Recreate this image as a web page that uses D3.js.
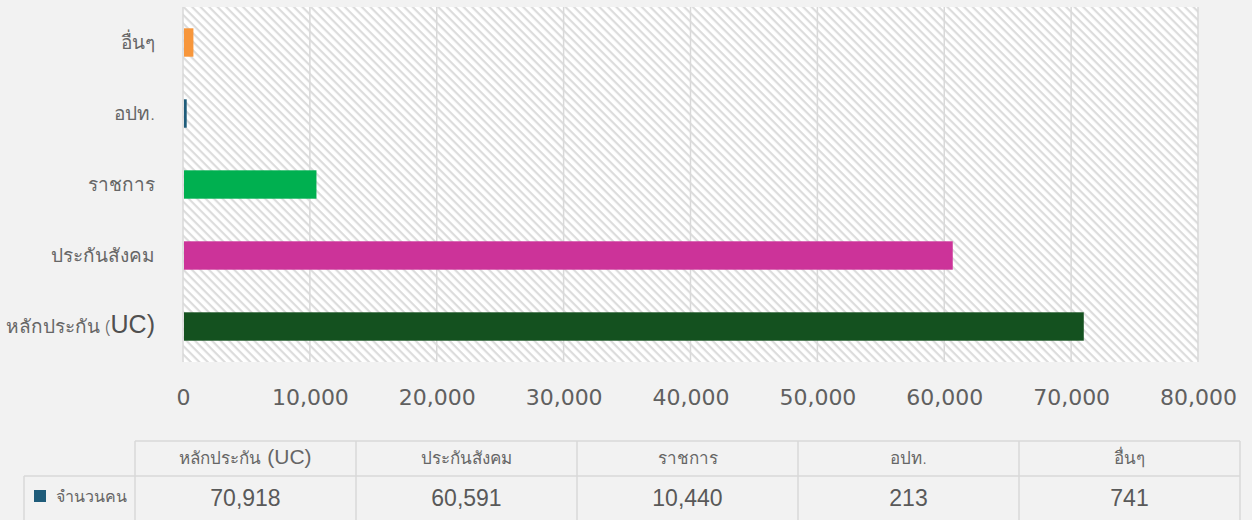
<!DOCTYPE html>
<html>
<head>
<meta charset="utf-8">
<script src="https://cdn.jsdelivr.net/npm/d3@7"></script>
<style>
  body { margin: 0; background: #f2f2f2; }
  svg { display: block; }
</style>
</head>
<body>
<svg id="chart" width="1252" height="520"></svg>
<script>
// data, bottom bar first in the table order
var categories = ["หลักประกัน (UC)", "ประกันสังคม", "ราชการ", "อปท.", "อื่นๆ"];
var values = [70918, 60591, 10440, 213, 741];
var barColors = ["#14511f", "#cc3399", "#00b050", "#1f5c7a", "#f7963b"];
var xTicks = [0, 10000, 20000, 30000, 40000, 50000, 60000, 70000, 80000];
var seriesName = "จำนวนคน";
var seriesColor = "#1f5c7a";

var svg = d3.select("#chart");
var plotLeft = 183, plotRight = 1198, plotTop = 7, plotBottom = 362;
var textColor = "#595959";
var fmt = d3.format(",");

var x = d3.scaleLinear().domain([0, 80000]).range([plotLeft, plotRight]);
// top to bottom: last category on top
var y = d3.scaleBand()
    .domain(categories.slice().reverse())
    .range([plotTop, plotBottom])
    .paddingInner(0.6)
    .paddingOuter(0.3);

// hatch pattern for plot area
var defs = svg.append("defs");
var pat = defs.append("pattern")
    .attr("id", "hatch")
    .attr("patternUnits", "userSpaceOnUse")
    .attr("width", 6).attr("height", 6)
    .attr("patternTransform", "rotate(45)");
pat.append("rect").attr("width", 6).attr("height", 6).attr("fill", "#ffffff");
pat.append("rect").attr("width", 6).attr("height", 2.2).attr("fill", "#dcdcdc");

svg.append("rect")
    .attr("x", plotLeft).attr("y", plotTop)
    .attr("width", plotRight - plotLeft).attr("height", plotBottom - plotTop)
    .attr("fill", "url(#hatch)");

// gridlines
svg.append("g")
  .selectAll("line")
  .data(xTicks)
  .enter().append("line")
    .attr("x1", function(d) { return x(d); })
    .attr("x2", function(d) { return x(d); })
    .attr("y1", plotTop).attr("y2", plotBottom)
    .attr("stroke", "#d9d9d9")
    .attr("stroke-width", 1.5);

// bars
svg.append("g")
  .selectAll("rect")
  .data(categories)
  .enter().append("rect")
    .attr("x", x(0) + 1)
    .attr("y", function(d) { return y(d); })
    .attr("width", function(d, i) { return Math.max(x(values[i]) - x(0), 2); })
    .attr("height", y.bandwidth())
    .attr("fill", function(d, i) { return barColors[i]; });

// x axis labels
var xAxis = svg.append("g")
    .attr("transform", "translate(0," + plotBottom + ")")
    .call(d3.axisBottom(x).tickValues(xTicks).tickSize(0).tickPadding(27).tickFormat(fmt));
xAxis.select(".domain").remove();
xAxis.selectAll("text")
    .attr("font-family", "DejaVu Sans")
    .attr("font-size", 22)
    .attr("fill", "#606060");

// category labels
var yAxis = svg.append("g");
categories.forEach(function(c) {
  var t = yAxis.append("text")
      .attr("x", 155)
      .attr("y", y(c) + y.bandwidth() / 2)
      .attr("dy", "0.35em")
      .attr("text-anchor", "end")
      .attr("font-family", "Noto Sans")
      .attr("font-weight", 300)
      .attr("font-size", 19)
      .attr("fill", "#666");
  var m = c.match(/^(.*\()(UC\))$/);
  if (m) {
    t.append("tspan").text(m[1]);
    t.append("tspan").attr("font-family", "Liberation Sans").attr("font-size", 25).attr("fill", "#505050").text(m[2]);
  } else {
    t.text(c);
  }
});

// data table
var tblLeft = 135, tblRight = 1240, legLeft = 24;
var rowTop = 441, rowMid = 476, rowBot = 522;
var col = d3.scaleBand().domain(categories).range([tblLeft, tblRight]);
var tbl = svg.append("g").attr("stroke", "#d9d9d9").attr("stroke-width", 1.5);
tbl.append("line").attr("x1", tblLeft).attr("x2", tblRight).attr("y1", rowTop).attr("y2", rowTop);
tbl.append("line").attr("x1", legLeft).attr("x2", tblRight).attr("y1", rowMid).attr("y2", rowMid);
tbl.append("line").attr("x1", legLeft).attr("x2", legLeft).attr("y1", rowMid).attr("y2", rowBot);
tbl.selectAll(".v")
  .data(categories.concat(["end"]))
  .enter().append("line")
    .attr("x1", function(d) { return d === "end" ? tblRight : col(d); })
    .attr("x2", function(d) { return d === "end" ? tblRight : col(d); })
    .attr("y1", rowTop).attr("y2", rowBot);

var cells = svg.append("g");
categories.forEach(function(c, i) {
  var cx = col(c) + col.bandwidth() / 2;
  var h = cells.append("text")
      .attr("x", cx).attr("y", (rowTop + rowMid) / 2)
      .attr("dy", "0.35em")
      .attr("text-anchor", "middle")
      .attr("font-family", "Noto Sans")
      .attr("font-weight", 300)
      .attr("font-size", 17)
      .attr("fill", "#666");
  var m = c.match(/^(.*) (\(UC\))$/);
  if (m) {
    h.append("tspan").text(m[1]);
    h.append("tspan").attr("font-family", "Liberation Sans").attr("font-size", 21).text(" " + m[2]);
  } else {
    h.text(c);
  }
  cells.append("text")
      .attr("x", cx).attr("y", 498)
      .attr("dy", "0.35em")
      .attr("text-anchor", "middle")
      .attr("font-family", "Liberation Sans")
      .attr("font-size", 23)
      .attr("fill", textColor)
      .text(fmt(values[i]));
});

// legend key in table
cells.append("rect")
    .attr("x", 34).attr("y", 490).attr("width", 12).attr("height", 12)
    .attr("fill", seriesColor);
cells.append("text")
    .attr("x", 56).attr("y", 496)
    .attr("dy", "0.35em")
    .attr("font-family", "Noto Sans")
    .attr("font-weight", 300)
    .attr("font-size", 16)
    .attr("fill", "#666")
    .text(seriesName);
</script>
</body>
</html>
